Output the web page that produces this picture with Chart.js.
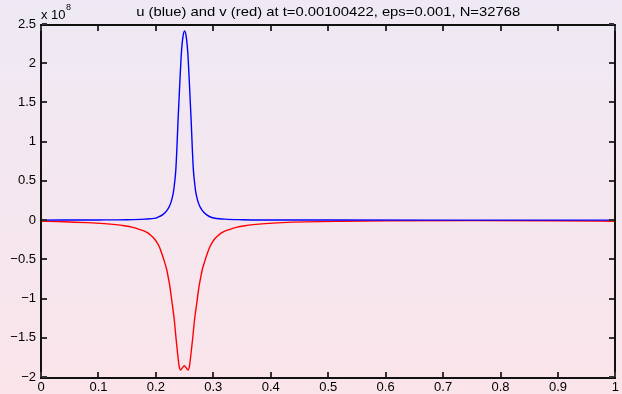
<!DOCTYPE html>
<html lang="en">
<head>
<meta charset="UTF-8">
<title>u and v</title>
<script src="https://cdn.jsdelivr.net/npm/chart.js@4.4.0/dist/chart.umd.min.js"></script>
<style>
  html, body { margin: 0; padding: 0; }
  #wrap { width: 622px; height: 394px; }
</style>
</head>
<body>
<div id="wrap"><canvas id="chart" width="622" height="394"></canvas></div>
<script>
// values (y in units of 1e8)
const uX = [0, 0.1, 0.15, 0.18, 0.2, 0.2014, 0.212, 0.22, 0.226, 0.2304, 0.2325, 0.2348, 0.2365, 0.2387, 0.242, 0.2445, 0.247, 0.25,
            0.253, 0.2555, 0.258, 0.2613, 0.2635, 0.2652, 0.2675, 0.2696, 0.274, 0.28, 0.288, 0.2986, 0.32, 0.35, 0.4, 0.5, 0.7, 1];
const uVals = [0, 0.002, 0.005, 0.012, 0.025, 0.03, 0.07, 0.13, 0.22, 0.35, 0.47, 0.65, 0.9, 1.29, 1.8, 2.14, 2.33, 2.41,
            2.33, 2.14, 1.8, 1.29, 0.9, 0.65, 0.47, 0.35, 0.22, 0.13, 0.07, 0.03, 0.012, 0.005, 0.002, 0.001, 0, 0];

const vX = [0, 0.04, 0.08, 0.11, 0.13, 0.145, 0.16, 0.17, 0.18, 0.186, 0.192, 0.197, 0.2015, 0.206, 0.21, 0.2145,
            0.2188, 0.2218, 0.2245, 0.2283, 0.232, 0.235, 0.2378, 0.2405, 0.243, 0.246, 0.2495,
            0.253, 0.256, 0.2585, 0.2612, 0.2642, 0.2673, 0.2712, 0.275, 0.2778, 0.2808, 0.2853, 0.2898, 0.294,
            0.2985, 0.303, 0.308, 0.314, 0.32, 0.33, 0.34, 0.355, 0.37, 0.39, 0.42, 0.46, 0.52, 0.6, 0.75, 0.9, 1];
const vVals = [-0.015, -0.02, -0.032, -0.045, -0.058, -0.072, -0.093, -0.115, -0.14, -0.163, -0.2, -0.235, -0.28, -0.34, -0.42, -0.52,
            -0.63, -0.74, -0.85, -1.06, -1.27, -1.5, -1.70, -1.86, -1.91, -1.885, -1.857,
            -1.885, -1.91, -1.86, -1.70, -1.5, -1.27, -1.06, -0.85, -0.74, -0.63, -0.52, -0.42, -0.34,
            -0.28, -0.235, -0.2, -0.163, -0.14, -0.115, -0.093, -0.072, -0.058, -0.045, -0.032, -0.022, -0.015, -0.01, -0.007, -0.009, -0.015];

const xTicks = [0, 0.1, 0.2, 0.3, 0.4, 0.5, 0.6, 0.7, 0.8, 0.9, 1];
const yTicks = [-2, -1.5, -1, -0.5, 0, 0.5, 1, 1.5, 2, 2.5];

const titleText = 'u (blue) and v (red) at t=0.00100422, eps=0.001, N=32768';
const FONT = '"Liberation Sans", Arial, Helvetica, sans-serif';

const toPoints = (xs, ys) => xs.map((x, i) => ({ x: x, y: ys[i] }));

const fmt = v => (v < 0 ? '\u2212' + String(-v) : String(v));

// gradient background, box, inward ticks, title, exponent
const decor = {
  id: 'decor',
  beforeDraw(chart) {
    const ctx = chart.ctx;
    const g = ctx.createLinearGradient(0, 0, 0, chart.height);
    g.addColorStop(0, '#eee9f4');
    g.addColorStop(1, '#fae4ea');
    ctx.save();
    ctx.fillStyle = g;
    ctx.fillRect(0, 0, chart.width, chart.height);
    ctx.restore();
  },
  afterDraw(chart) {
    const ctx = chart.ctx;
    const a = chart.chartArea;
    const xs = chart.scales.x, ys = chart.scales.y;
    const L = Math.round(a.left) - 1, R = Math.round(a.right) - 1;
    const T = Math.round(a.top), B = Math.round(a.bottom);
    ctx.save();
    ctx.fillStyle = '#111';
    // box, about 2px like the reference
    ctx.fillRect(L, T, R - L + 2, 2);
    ctx.fillRect(L, B, R - L + 2, 2);
    ctx.fillRect(L, T, 2, B - T + 2);
    ctx.fillRect(R, T, 2, B - T + 2);
    // inward ticks
    ctx.fillStyle = '#333';
    xTicks.forEach(v => {
      const px = Math.round(xs.getPixelForValue(v));
      ctx.fillRect(px - 1, B - 5, 2, 5);
      ctx.fillRect(px - 1, T + 2, 2, 5);
    });
    yTicks.forEach(v => {
      const py = Math.round(ys.getPixelForValue(v));
      ctx.fillRect(L + 2, py - 1, 5, 2);
      ctx.fillRect(R - 5, py - 1, 5, 2);
    });

    ctx.fillStyle = '#000';
    ctx.font = '13px ' + FONT;
    ctx.textBaseline = 'alphabetic';
    ctx.textAlign = 'center';
    const tw = ctx.measureText(titleText).width;
    ctx.save();
    ctx.translate((a.left + a.right) / 2, 16);
    ctx.scale(384 / tw, 1);
    ctx.fillText(titleText, 0, 0);
    ctx.restore();

    ctx.textAlign = 'left';
    ctx.fillText('x 10', a.left, 19);
    const w = ctx.measureText('x 10').width;
    ctx.font = '9px ' + FONT;
    ctx.fillText('8', a.left + w + 0.5, 10);
    ctx.restore();
  }
};

new Chart(document.getElementById('chart'), {
  type: 'line',
  data: {
    datasets: [
      {
        label: 'u',
        data: toPoints(uX, uVals),
        borderColor: '#0000ff',
        borderWidth: 1.4,
        pointRadius: 0,
        cubicInterpolationMode: 'monotone',
        fill: false
      },
      {
        label: 'v',
        data: toPoints(vX, vVals),
        borderColor: '#ff0000',
        borderWidth: 1.4,
        pointRadius: 0,
        cubicInterpolationMode: 'monotone',
        fill: false
      }
    ]
  },
  options: {
    responsive: false,
    animation: false,
    layout: { padding: { left: 0, right: 2, top: 24, bottom: 0 } },
    plugins: {
      legend: { display: false },
      title: { display: false },
      tooltip: { enabled: false }
    },
    scales: {
      x: {
        type: 'linear',
        min: 0,
        max: 1,
        grid: { display: false, drawTicks: false },
        border: { display: false },
        afterFit: s => { s.height = 17; },
        afterBuildTicks: s => { s.ticks = xTicks.map(v => ({ value: v })); },
        ticks: {
          color: '#000',
          padding: 3,
          maxRotation: 0,
          autoSkip: false,
          font: { family: FONT, size: 13 },
          callback: v => fmt(v)
        }
      },
      y: {
        type: 'linear',
        min: -2,
        max: 2.5,
        grid: { display: false, drawTicks: false },
        border: { display: false },
        afterFit: s => { s.width = 41; },
        afterBuildTicks: s => { s.ticks = yTicks.map(v => ({ value: v })); },
        ticks: {
          color: '#000',
          padding: 5,
          autoSkip: false,
          font: { family: FONT, size: 13 },
          callback: v => fmt(v)
        }
      }
    }
  },
  plugins: [decor]
});
</script>
</body>
</html>
